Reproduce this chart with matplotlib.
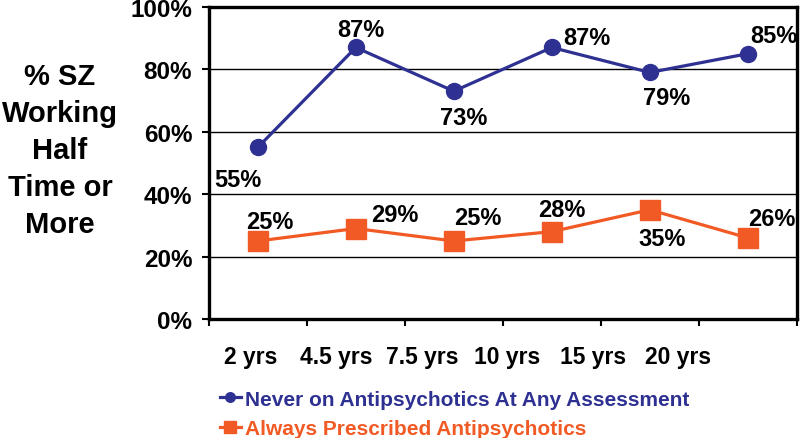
import matplotlib.pyplot as plt
import numpy as np

# data
periods = ["2 yrs", "4.5 yrs", "7.5 yrs", "10 yrs", "15 yrs", "20 yrs"]
never_on = [55, 87, 73, 87, 79, 85]
always_on = [25, 29, 25, 28, 35, 26]
never_label = "Never on Antipsychotics At Any Assessment"
always_label = "Always Prescribed Antipsychotics"

BLUE = "#2E3192"
ORANGE = "#F15A24"

# label offsets (points) for each data label
never_offsets = [(-14, -23), (4, 13), (7, -19), (25, 7), (12, -18), (19, 13)]
always_offsets = [(9, 14), (28, 10), (17, 17), (7, 16), (9, -21), (17, 14)]

plt.rcParams["font.family"] = ["Liberation Sans", "DejaVu Sans"]
plt.rcParams["font.weight"] = "bold"

fig = plt.figure(figsize=(8, 4.39), dpi=100)
ax = fig.add_axes([0.261, 0.271, 0.735, 0.711])

x = np.arange(len(periods))
ax.plot(x, never_on, color=BLUE, lw=2.3, marker="o", ms=11.5, label=never_label)
ax.plot(x, always_on, color=ORANGE, lw=2.3, marker="s", ms=14.5, label=always_label)

for xi, v, off in zip(x, never_on, never_offsets):
    ax.annotate(f"{v}%", (xi, v), xytext=off, textcoords="offset points",
                ha="center", va="center", fontsize=17, fontweight="bold")
for xi, v, off in zip(x, always_on, always_offsets):
    ax.annotate(f"{v}%", (xi, v), xytext=off, textcoords="offset points",
                ha="center", va="center", fontsize=17, fontweight="bold")

ax.set_xlim(-0.5, len(periods) - 0.5)
ax.set_ylim(0, 100)
ax.set_yticks(range(0, 101, 20))
ax.set_yticklabels([f"{t}%" for t in range(0, 101, 20)])
ax.yaxis.grid(True, color="black", lw=1.0)
ax.set_axisbelow(True)

# category boundaries get the tick marks, labels sit on their own (shifted like the slide)
ax.set_xticks(np.arange(-0.5, len(periods), 1.0))
ax.set_xticklabels([])
ax.set_xticks(-0.07 + 0.872 * x, minor=True)
ax.set_xticklabels(periods, minor=True)
ax.tick_params(axis="x", which="major", length=5, width=1.5, direction="out")
ax.tick_params(axis="x", which="minor", length=0, pad=19, labelsize=16.5)
ax.tick_params(axis="y", length=5, width=1.5, pad=7, labelsize=17.5)

for s in ax.spines.values():
    s.set_linewidth(2.4)

fig.text(0.075, 0.656, "% SZ\nWorking\nHalf\nTime or\nMore", ha="center", va="center",
         fontsize=21, fontweight="bold", linespacing=1.42)

leg = fig.legend(loc="upper left", bbox_to_anchor=(0.275, 0.11), frameon=False,
                 fontsize=15, handlelength=1.0, handletextpad=0.2, labelspacing=0.5,
                 borderaxespad=0, borderpad=0, markerscale=0.6)
for txt, c in zip(leg.get_texts(), [BLUE, ORANGE]):
    txt.set_color(c)

fig.savefig("out.png", dpi=100)
